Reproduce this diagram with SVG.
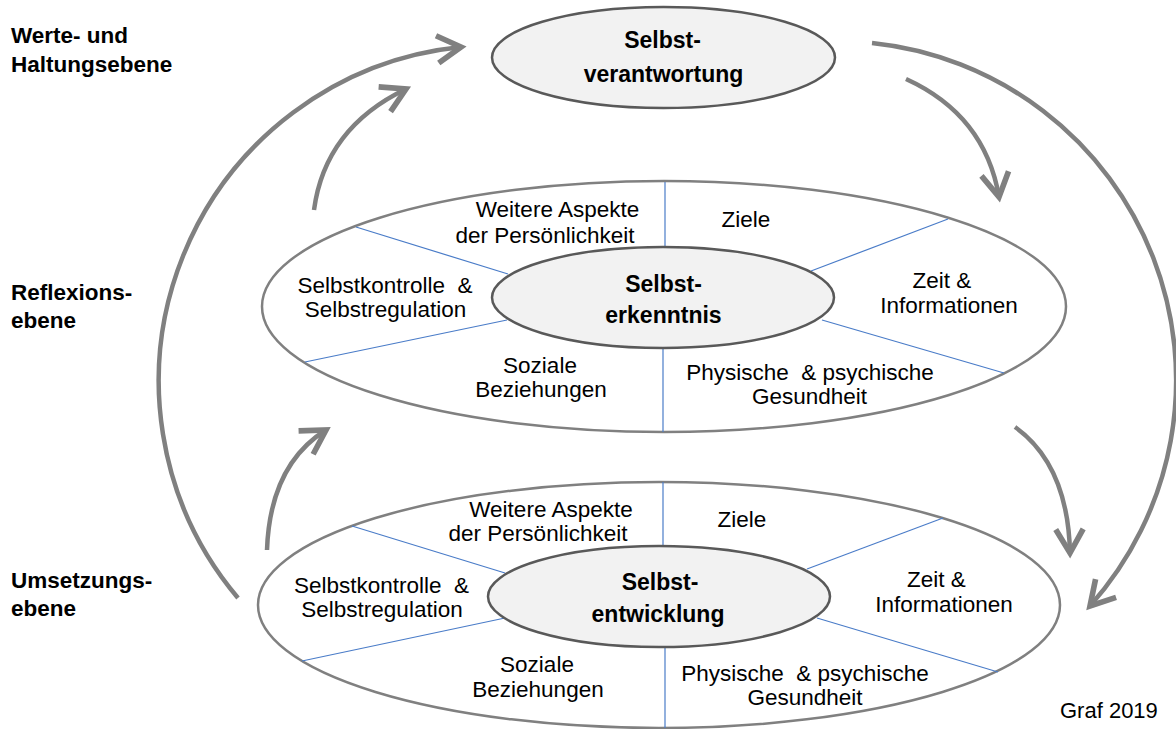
<svg xmlns="http://www.w3.org/2000/svg" width="1176" height="729" viewBox="0 0 1176 729">
<style>
text{font-family:"Liberation Sans",Arial,sans-serif;fill:#000}
.r{font-size:22.5px;text-anchor:middle}
.b{font-size:23px;font-weight:bold;text-anchor:middle}
.lv{font-size:22.5px;font-weight:bold}
.outer{fill:#fff;stroke:#808080;stroke-width:2.5}
.inner{fill:#f2f2f2;stroke:#595959;stroke-width:2.5}
.div{stroke:#4a7cc8;stroke-width:1.2;fill:none}
.arr{fill:none;stroke:#808080;stroke-width:4.5;marker-end:url(#ah)}
</style>
<defs>
<marker id="ah" markerUnits="userSpaceOnUse" markerWidth="40" markerHeight="40" refX="0" refY="0" viewBox="-24 -16 28 32" orient="auto">
<path d="M-19,-11 L0,0 L-19,11" fill="none" stroke="#808080" stroke-width="4.5" stroke-linejoin="miter"/>
</marker>
</defs>
<rect width="1176" height="729" fill="#fff"/>

<g id="levels">
<text class="lv" x="11" y="43">Werte- und</text>
<text class="lv" x="11" y="72">Haltungsebene</text>
<text class="lv" x="11" y="300">Reflexions-</text>
<text class="lv" x="11" y="328">ebene</text>
<text class="lv" x="11" y="588">Umsetzungs-</text>
<text class="lv" x="11" y="616">ebene</text>
</g>

<g id="connectors">
<path class="arr" d="M238,598 A336,336 0 0 1 461,47"/>
<path class="arr" d="M872,43 A339,339 0 0 1 1090,606"/>
<path class="arr" d="M314,210 Q325,128 406,89"/>
<path class="arr" d="M267,550 Q270,465 326,430"/>
<path class="arr" d="M906,79 Q985,115 999,197"/>
<path class="arr" d="M1015,427 Q1068,465 1070,553"/>
</g>

<g id="node-selbstverantwortung">
<ellipse class="inner" cx="663.5" cy="57.5" rx="171.5" ry="50.5"/>
<text class="b" x="662.5" y="48">Selbst-</text>
<text class="b" x="663.5" y="82">verantwortung</text>
</g>

<g id="node-reflexion">
<ellipse class="outer" cx="664" cy="306.5" rx="402" ry="125.5"/>
<line class="div" x1="665" y1="182" x2="665" y2="247"/>
<line class="div" x1="663" y1="348" x2="663" y2="432"/>
<line class="div" x1="356" y1="227" x2="508" y2="274"/>
<line class="div" x1="305" y1="362" x2="507" y2="320"/>
<line class="div" x1="948" y1="219" x2="811" y2="271"/>
<line class="div" x1="822" y1="320" x2="1004" y2="373"/>
<text class="r" x="557.5" y="217">Weitere Aspekte</text>
<text class="r" x="545" y="243">der Persönlichkeit</text>
<text class="r" x="746" y="227">Ziele</text>
<text class="r" x="385" y="293" xml:space="preserve">Selbstkontrolle  &amp;</text>
<text class="r" x="385.5" y="317">Selbstregulation</text>
<text class="r" x="942" y="288">Zeit &amp;</text>
<text class="r" x="949" y="313">Informationen</text>
<text class="r" x="540" y="373">Soziale</text>
<text class="r" x="541" y="397">Beziehungen</text>
<text class="r" x="810" y="380" xml:space="preserve">Physische  &amp; psychische</text>
<text class="r" x="809.5" y="404">Gesundheit</text>
</g>
<g id="node-selbsterkenntnis">
<ellipse class="inner" cx="663" cy="297.5" rx="171" ry="50.5"/>
<text class="b" x="663.5" y="292">Selbst-</text>
<text class="b" x="663.5" y="323">erkenntnis</text>
</g>

<g id="node-umsetzung">
<ellipse class="outer" cx="659" cy="605" rx="401" ry="123"/>
<line class="div" x1="663" y1="482" x2="663" y2="546"/>
<line class="div" x1="665" y1="648" x2="665" y2="728"/>
<line class="div" x1="352" y1="526" x2="505" y2="573"/>
<line class="div" x1="302" y1="661" x2="505" y2="618"/>
<line class="div" x1="943" y1="518" x2="807" y2="569"/>
<line class="div" x1="817" y1="618" x2="998" y2="672"/>
<text class="r" x="551" y="517">Weitere Aspekte</text>
<text class="r" x="538" y="541">der Persönlichkeit</text>
<text class="r" x="742" y="527">Ziele</text>
<text class="r" x="381.5" y="593" xml:space="preserve">Selbstkontrolle  &amp;</text>
<text class="r" x="382" y="617">Selbstregulation</text>
<text class="r" x="936.5" y="587">Zeit &amp;</text>
<text class="r" x="944" y="612">Informationen</text>
<text class="r" x="537" y="672">Soziale</text>
<text class="r" x="538" y="697">Beziehungen</text>
<text class="r" x="805" y="681" xml:space="preserve">Physische  &amp; psychische</text>
<text class="r" x="805" y="705">Gesundheit</text>
</g>
<g id="node-selbstentwicklung">
<ellipse class="inner" cx="659" cy="596.5" rx="171" ry="50.5"/>
<text class="b" x="660" y="590">Selbst-</text>
<text class="b" x="658" y="622">entwicklung</text>
</g>

<g id="credit">
<text x="1060" y="718" style="font-size:22px">Graf 2019</text>
</g>
</svg>
